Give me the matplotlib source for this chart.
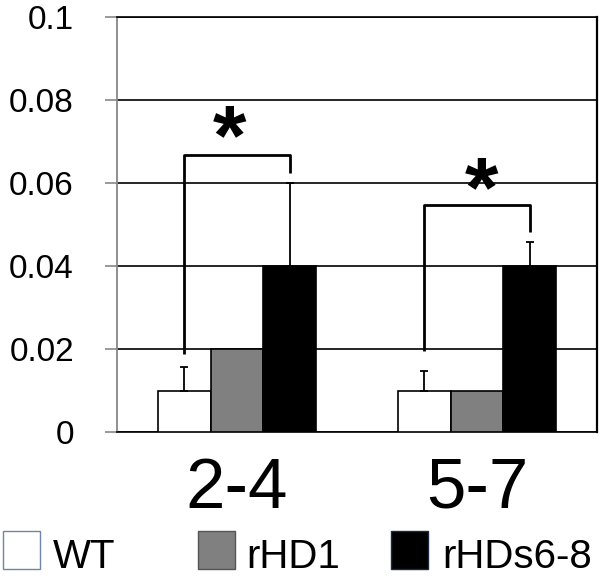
import numpy as np
import matplotlib.pyplot as plt
from matplotlib.patches import Rectangle

plt.rcParams['font.family'] = ['Liberation Sans', 'DejaVu Sans']

# data
groups = ['2-4', '5-7']
series = ['WT', 'rHD1', 'rHDs6-8']
values = {
    'WT': [0.01, 0.01],
    'rHD1': [0.02, 0.01],
    'rHDs6-8': [0.04, 0.04],
}
errors = {
    'WT': [0.0057, 0.0047],
    'rHD1': [0.0, 0.0],
    'rHDs6-8': [0.02, 0.0058],
}
colors = {'WT': 'white', 'rHD1': '#808080', 'rHDs6-8': 'black'}

# significance brackets: (left foot, top, right foot)
bracket_left = [0.0188, 0.0195]
bracket_top = [0.0667, 0.0547]
bracket_right = [0.0624, 0.0482]
star_y = [0.0699, 0.0572]
star_dx = [-0.033, 0.017]

W, H = 600, 577
fig = plt.figure(figsize=(W / 100, H / 100), dpi=100)
ax = fig.add_axes([0.195, 0.2513, 0.80, 0.7192])

x = np.arange(len(groups))
width = 0.22
offsets = [-width, 0, width]

for s, off in zip(series, offsets):
    ax.bar(x + off, values[s], width, color=colors[s], edgecolor='black',
           linewidth=1.2, zorder=3)
    err = np.array(errors[s])
    if err.any():
        ax.errorbar(x + off, values[s], yerr=[np.zeros_like(err), err],
                    fmt='none', ecolor='black', elinewidth=1.3, capsize=3,
                    capthick=1.3, zorder=4)

for i in range(len(groups)):
    xl = x[i] - width
    xr = x[i] + width
    ax.plot([xl, xl, xr, xr],
            [bracket_left[i], bracket_top[i], bracket_top[i], bracket_right[i]],
            color='black', lw=2, zorder=5, solid_capstyle='butt')
    ax.text(x[i] + star_dx[i], star_y[i], '*', fontsize=62, fontweight='bold',
            ha='center', va='center', zorder=6)

ax.set_xlim(-0.5, 1.5)
ax.set_ylim(0, 0.1)
ax.set_yticks(np.arange(0, 0.101, 0.02))
ax.set_yticklabels(['0', '0.02', '0.04', '0.06', '0.08', '0.1'])
ax.tick_params(axis='y', labelsize=24, length=9, width=1.2, color='#888888',
               pad=22)
ax.set_xticks([])
ax.yaxis.grid(True, color='black', lw=1.2, zorder=0)
ax.set_axisbelow(True)

ax.spines['left'].set_color('#888888')
ax.spines['left'].set_linewidth(1.3)
ax.spines['right'].set_color('black')
ax.spines['right'].set_linewidth(1.6)
ax.spines['top'].set_color('black')
ax.spines['top'].set_linewidth(1.2)
ax.spines['bottom'].set_color('black')
ax.spines['bottom'].set_linewidth(1.2)

# group labels under each cluster
for i, g in enumerate(groups):
    ax.text(x[i], -0.0183, g, fontsize=51, ha='center', va='baseline',
            clip_on=False)

# legend drawn by hand (pixel layout from the original)
box_x = [3, 198, 391]
text_x = [53, 246, 442]
box_w, box_h, box_top = 37, 38, 531
text_base = 568
for s, bx, tx in zip(series, box_x, text_x):
    edge = '#6f86a8' if s == 'WT' else ('#555555' if s == 'rHD1' else '#1a2a44')
    fig.patches.append(Rectangle((bx / W, 1 - (box_top + box_h) / H),
                                 box_w / W, box_h / H, facecolor=colors[s],
                                 edgecolor=edge, linewidth=1,
                                 transform=fig.transFigure, figure=fig))
    fig.text(tx / W, 1 - text_base / H, s, fontsize=29, ha='left',
             va='baseline')

fig.savefig('out.png', dpi=100)
